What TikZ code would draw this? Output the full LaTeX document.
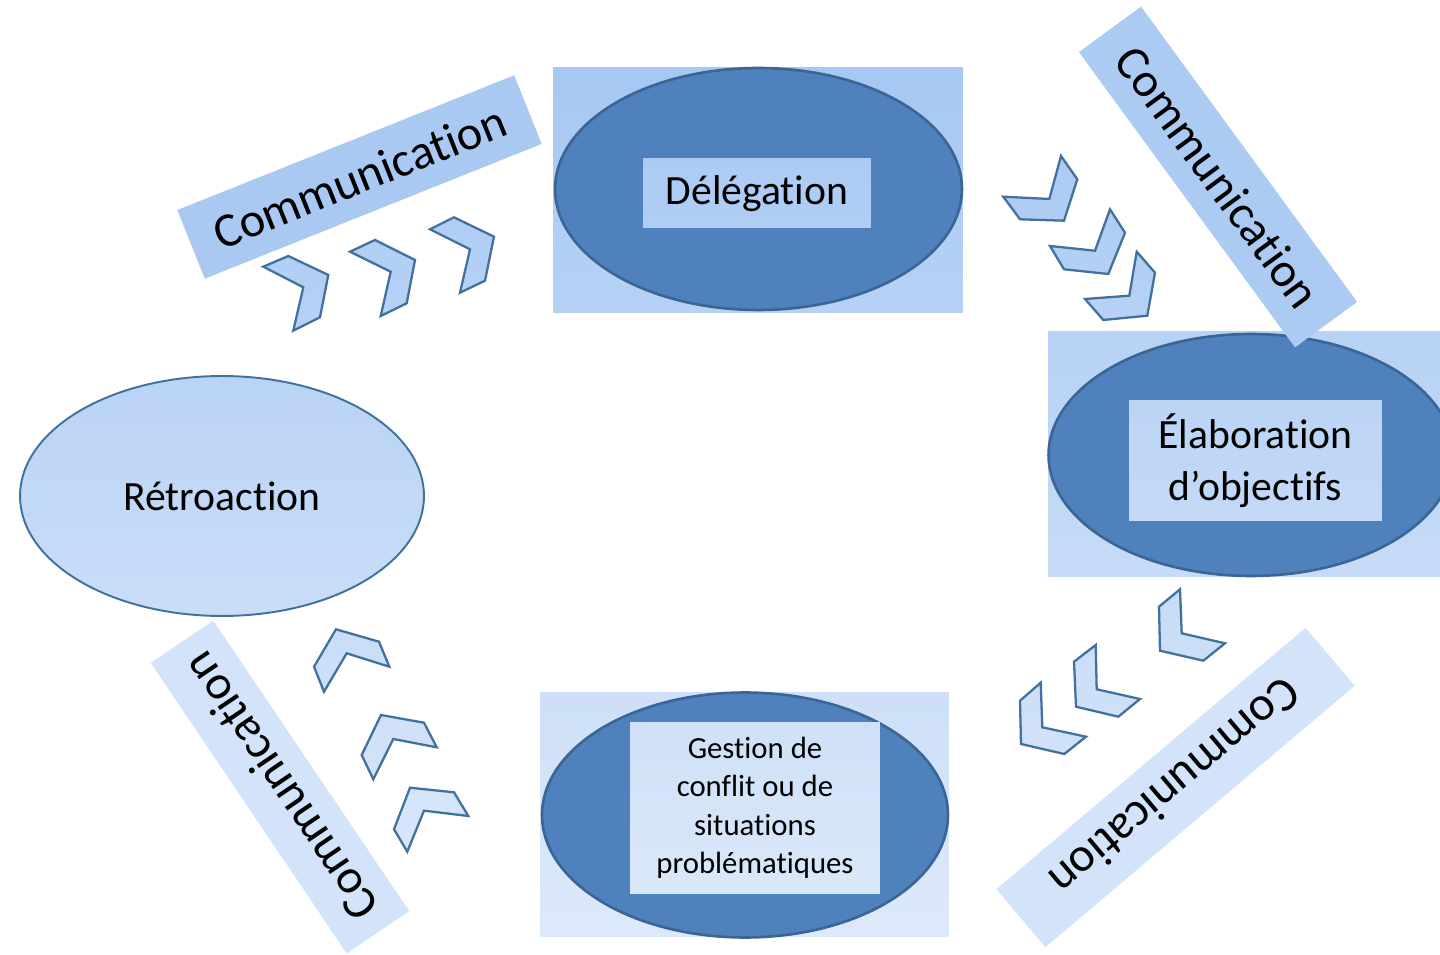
\documentclass[tikz,border=0pt]{standalone}
\usepackage{fontspec}
\setmainfont{Carlito}[Ligatures={NoCommon,NoContextual}]
\usetikzlibrary{shapes.geometric}
\usetikzlibrary{positioning}
\definecolor{gA}{HTML}{A2C5F2}
\definecolor{gB}{HTML}{DEEAFA}
\definecolor{darkfill}{HTML}{4F81BD}
\definecolor{darkline}{HTML}{3A6594}
\definecolor{chevline}{HTML}{41719C}
\tikzset{
  bgbox/.style={rectangle, inner sep=0pt},
  darkell/.style={ellipse, fill=darkfill, draw=darkline, line width=1.5pt, inner sep=0pt},
  labelbox/.style={rectangle, inner sep=0pt, align=center, font=\fontsize{23.7}{29.5}\selectfont},
  banner/.style={rectangle, inner sep=0pt, font=\fontsize{27.5}{33}\selectfont},
  chev/.style={draw=chevline, line width=1.3pt, line join=miter},
}

\begin{document}
\begin{tikzpicture}[x=0.02cm, y=-0.02cm]
  \useasboundingbox (0,0) rectangle (1440,955);

  % délégation
  \node[bgbox, minimum width=8.2cm, minimum height=4.92cm,
        top color=gA!93!gB, bottom color=gA!67!gB] (delegbg) at (758,190) {};
  \node[darkell, minimum width=8.14cm, minimum height=4.84cm] (deleg) at (758.5,189) {};
  \node[labelbox, minimum width=4.56cm, minimum height=1.38cm,
        top color=gA!83!gB, bottom color=gA!76!gB] (delegtxt) at (757,193.5) {Délégation};

  % élaboration d'objectifs
  \node[bgbox, minimum width=8.12cm, minimum height=4.92cm,
        top color=gA!65!gB, bottom color=gA!40!gB] (elabbg) at (1251,454) {};
  \node[darkell, minimum width=8.1cm, minimum height=4.84cm] (elab) at (1251,455) {};
  \node[labelbox, minimum width=5.06cm, minimum height=2.42cm,
        top color=gA!58!gB, bottom color=gA!45!gB] (elabtxt) at (1255.5,460.5)
        {Élaboration\\d’objectifs};

  % gestion de conflit
  \node[bgbox, minimum width=8.18cm, minimum height=4.9cm,
        top color=gA!28!gB, bottom color=gA!2!gB] (gestbg) at (744.5,814.5) {};
  \node[darkell, minimum width=8.12cm, minimum height=4.9cm] (gest) at (745,815) {};
  \node[labelbox, minimum width=5cm, minimum height=3.44cm,
        top color=gA!25!gB, bottom color=gA!7!gB,
        font=\fontsize{17.5}{21.9}\selectfont] (gesttxt) at (755,808)
        {Gestion de\\conflit ou de\\situations\\problématiques};

  % bandeaux
  \node[banner, fill=gA!18!gB, rotate=124, minimum width=7.01cm, minimum height=1.51cm]
        (combl) at (280,787) {Communication};
  \node[ellipse, draw=chevline, line width=1.1pt, inner sep=0pt,
        top color=gA!61!gB, bottom color=gA!35!gB,
        minimum width=8.08cm, minimum height=4.8cm,
        font=\fontsize{23.7}{29}\selectfont] (retro) at (222,496) {Rétroaction};
  \node[banner, fill=gA!88!gB, rotate=21.8, minimum width=7.26cm, minimum height=1.48cm]
        (comtl) at (359.5,177) {Communication};
  \node[banner, fill=gA!85!gB, rotate=-53.8, minimum width=7.32cm, minimum height=1.54cm]
        (comtr) at (1218,177) {Communication};
  \node[banner, fill=gA!18!gB, rotate=220.2, minimum width=8.1cm, minimum height=1.52cm]
        (combr) at (1175.5,787.5) {Communication};

  % chevrons haut gauche
  \draw[chev, top color=gA!76!gB, bottom color=gA!65!gB]
    (263.3,266.7) -- (288.3,256) -- (328.3,275) -- (320,317.3) -- (293.3,330.7) -- (303.3,287.3) -- cycle;
  \draw[chev, top color=gA!76!gB, bottom color=gA!66!gB]
    (350,251.7) -- (375,240) -- (415,260) -- (406.7,303.3) -- (380.7,316) -- (390.7,271.7) -- cycle;
  \draw[chev, top color=gA!78!gB, bottom color=gA!68!gB]
    (430,229.3) -- (454,217.3) -- (494,236.7) -- (485,280.7) -- (460,292.7) -- (470,249.3) -- cycle;

  % chevrons haut droite
  \draw[chev, top color=gA!84!gB, bottom color=gA!77!gB]
    (1003.3,196.7) -- (1049.3,199) -- (1061,156) -- (1077.3,179.3) -- (1064,220.7) -- (1020,219.3) -- cycle;
  \draw[chev, top color=gA!78!gB, bottom color=gA!71!gB]
    (1050,246) -- (1095,250.7) -- (1110,209.3) -- (1125,232.7) -- (1108.3,274) -- (1064,269.3) -- cycle;
  \draw[chev, top color=gA!74!gB, bottom color=gA!66!gB]
    (1085,299) -- (1129.3,295.7) -- (1136.7,251.7) -- (1155,272.7) -- (1147.3,315.7) -- (1103.3,320) -- cycle;

  % chevrons bas droite
  \draw[chev, top color=gA!38!gB, bottom color=gA!31!gB]
    (1180,589.3) -- (1181.7,633.3) -- (1225,643.3) -- (1203.3,660.7) -- (1160,650.7) -- (1159,606.7) -- cycle;
  \draw[chev, top color=gA!32!gB, bottom color=gA!25!gB]
    (1095.7,645) -- (1096.7,689.3) -- (1140,699) -- (1118.3,716.7) -- (1076,706.7) -- (1074,661.7) -- cycle;
  \draw[chev, top color=gA!29!gB, bottom color=gA!21!gB]
    (1040.7,682.7) -- (1042.3,727.3) -- (1086,736.7) -- (1064.3,754) -- (1021,744) -- (1020,700.7) -- cycle;

  % chevrons bas gauche
  \draw[chev, top color=gA!34!gB, bottom color=gA!28!gB]
    (336,629.3) -- (379,641.7) -- (389.3,666.7) -- (346.7,653.3) -- (324,691.7) -- (314,666.7) -- cycle;
  \draw[chev, top color=gA!25!gB, bottom color=gA!18!gB]
    (381,715) -- (424,722.7) -- (436.7,747.3) -- (393.3,739) -- (373.3,779.3) -- (361.7,755) -- cycle;
  \draw[chev, top color=gA!18!gB, bottom color=gA!11!gB]
    (410,787.7) -- (454,792.3) -- (468.3,816) -- (424,810.7) -- (407.3,851.7) -- (394,829.3) -- cycle;
\end{tikzpicture}
\end{document}
